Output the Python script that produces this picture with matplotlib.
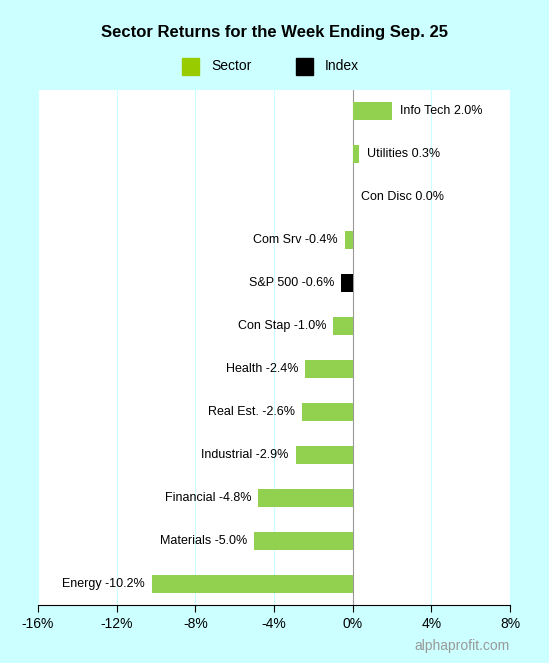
import matplotlib
matplotlib.use("Agg")
import matplotlib.pyplot as plt

names = ["Info Tech", "Utilities", "Con Disc", "Com Srv", "S&P 500", "Con Stap",
         "Health", "Real Est.", "Industrial", "Financial", "Materials", "Energy"]
values = [2.0, 0.3, 0.0, -0.4, -0.6, -1.0, -2.4, -2.6, -2.9, -4.8, -5.0, -10.2]
kinds = ["Sector", "Sector", "Sector", "Sector", "Index", "Sector",
         "Sector", "Sector", "Sector", "Sector", "Sector", "Sector"]
ticks = [-16, -12, -8, -4, 0, 4, 8]

plt.rcParams['font.family'] = ['Liberation Sans', 'DejaVu Sans']
green, black = "#92D050", "#000000"
fig = plt.figure(figsize=(5.49, 6.63), dpi=100, facecolor="#CCFFFF")
ax = fig.add_axes([38/549, 1-605/663, 472/549, 515/663])
ax.set_xlim(-16, 8)
ax.set_ylim(11.5, -0.5)
for t in ticks:
    if t != 0:
        ax.axvline(t, color="#CCFFFF", lw=0.8, zorder=0)
ax.axvline(0, color="#999999", lw=0.8, zorder=1)
cols = [black if k == "Index" else green for k in kinds]
ys = list(range(len(values)))
ax.barh(ys, values, height=0.42, color=cols, zorder=2)
for y, v, n in zip(ys, values, names):
    lab = f"{n} {v:.1f}%"
    if v >= 0:
        ax.annotate(lab, (v, y), xytext=(6, 0), textcoords="offset points",
                    ha="left", va="center", fontsize=9)
    else:
        ax.annotate(lab, (v, y), xytext=(-5, 0), textcoords="offset points",
                    ha="right", va="center", fontsize=9)
ax.set_xticks(ticks)
ax.set_xticklabels([f"{t}%" for t in ticks], fontsize=10)
ax.set_yticks([])
for s in ["top", "right", "left"]:
    ax.spines[s].set_visible(False)
ax.spines["bottom"].set_color("black")
ax.tick_params(axis="x", length=5, direction="out")
fig.text(0.5, 1-32/663, "Sector Returns for the Week Ending Sep. 25", ha="center",
         va="center", fontsize=12, fontweight="bold")
fig.patches.append(plt.Rectangle((182/549, 1-75/663), 17/549, 17/663, color="#99CC00",
                                 transform=fig.transFigure))
fig.text(211/549, 1-66/663, "Sector", va="center", fontsize=10)
fig.patches.append(plt.Rectangle((296/549, 1-75/663), 17/549, 17/663, color="black",
                                 transform=fig.transFigure))
fig.text(325/549, 1-66/663, "Index", va="center", fontsize=10)
fig.text(510/549, 1-646/663, "alphaprofit.com", ha="right", va="center",
         fontsize=10, color="#999999")
fig.savefig("out.png", dpi=100, facecolor=fig.get_facecolor())
